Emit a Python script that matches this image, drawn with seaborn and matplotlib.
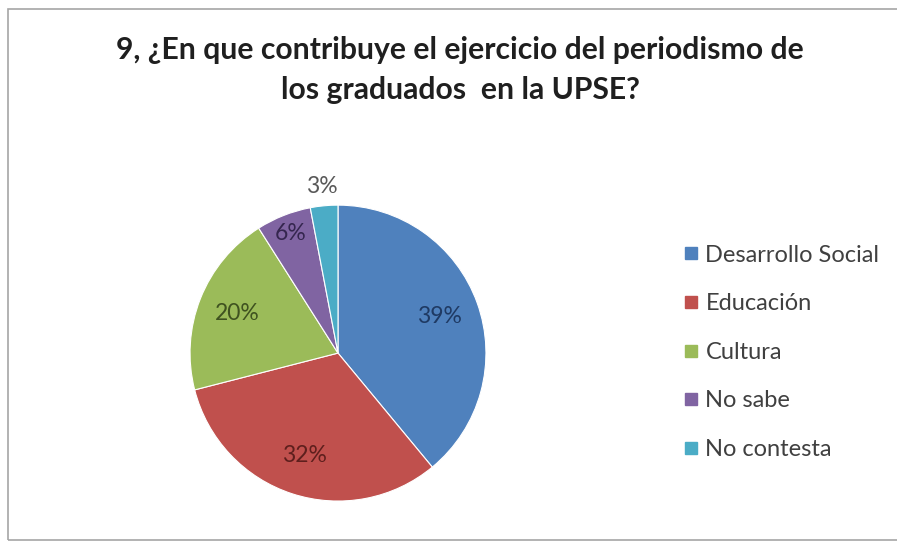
import matplotlib
matplotlib.use('Agg')
import matplotlib.pyplot as plt
from matplotlib.patches import Rectangle
from matplotlib.lines import Line2D
import seaborn as sns

categories = ['Desarrollo Social', 'Educación', 'Cultura', 'No sabe', 'No contesta']
percentages = [39, 32, 20, 6, 3]
colors = ['#4F81BD', '#C0504D', '#9BBB59', '#8064A2', '#4BACC6']
label_colors = ['#1F3A63', '#5E1F1D', '#3F5220', '#35264F', '#595959']
title = '9, ¿En que contribuye el ejercicio del periodismo de\nlos graduados  en la UPSE?'

sns.set_theme(style='white')
plt.rcParams['font.family'] = ['Lato', 'DejaVu Sans']

fig = plt.figure(figsize=(8.97, 5.47), dpi=100)
fig.patch.set_facecolor('white')

# chart frame (right edge runs off the picture)
fig.patches.append(Rectangle((8 / 897, 7 / 547), 1.2, 531 / 547, transform=fig.transFigure,
                             fill=False, edgecolor='#a6a6a6', linewidth=1.2))

ax = fig.add_axes([0.2118, 0.084, 0.33, 0.541])
wedges, texts, autotexts = ax.pie(percentages, colors=colors, startangle=90, counterclock=False,
                                  autopct='%d%%', pctdistance=0.73,
                                  wedgeprops={'linewidth': 0.8, 'edgecolor': 'white'},
                                  textprops={'fontsize': 16.5})
ax.set_xlim(-1, 1)
ax.set_ylim(-1, 1)
ax.set_aspect('equal')

for t, c in zip(autotexts, label_colors):
    t.set_color(c)
# small slices: push labels outward
for t, f in zip(autotexts[3:], [0.87 / 0.73, 1.13 / 0.73]):
    x, y = t.get_position()
    t.set_position((x * f, y * f))

fig.text(0.513, 0.872, title, ha='center', va='center', fontsize=21.7, fontweight='bold',
         color='#1f1f1f', linespacing=1.5)

handles = [Line2D([0], [0], marker='s', linestyle='none', markersize=9, color=c) for c in colors]
leg = fig.legend(handles, categories, loc='center left', bbox_to_anchor=(0.739, 0.356),
                 frameon=False, fontsize=17, handlelength=0.6, handletextpad=0.3,
                 labelspacing=1.17)
for t in leg.get_texts():
    t.set_color('#404040')

fig.savefig('out.png', dpi=100)
plt.close()
